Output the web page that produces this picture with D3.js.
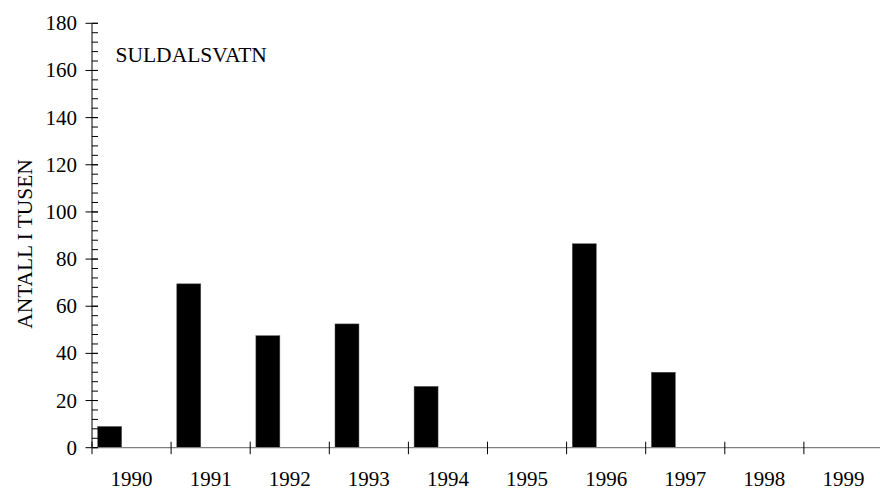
<!DOCTYPE html>
<html>
<head>
<meta charset="utf-8">
<script src="https://cdnjs.cloudflare.com/ajax/libs/d3/7.8.5/d3.min.js"></script>
<style>
    body { margin: 0; background: #fff; }
    #chart text { font-family: "Liberation Serif", "DejaVu Serif", serif !important; }
</style>
</head>
<body>
<svg id="chart" width="880" height="489"></svg>
<script>
    // data
    var years = ["1990", "1991", "1992", "1993", "1994", "1995", "1996", "1997", "1998", "1999"];
    var antall = [9, 69.5, 47.5, 52.5, 26, 0, 86.5, 32, 0, 0];
    var yTicks = [0, 20, 40, 60, 80, 100, 120, 140, 160, 180];

    var svg = d3.select("#chart");
    var x0 = 92, yBase = 447.7, yTop = 23.3;
    var x1 = x0 + 79.1 * years.length;

    var x = d3.scaleBand().domain(years).range([x0, x1]).padding(0);
    var y = d3.scaleLinear().domain([0, 180]).range([yBase, yTop]);
    var bw = x.bandwidth();

    svg.append("text")
        .attr("x", 115.5)
        .attr("y", 61.5)
        .attr("font-size", 21.5)
        .text("SULDALSVATN");

    svg.append("text")
        .attr("transform", "translate(31.5,244) rotate(-90)")
        .attr("text-anchor", "middle")
        .attr("font-size", 21.4)
        .text("ANTALL I TUSEN");

    // bars sit in the left part of each year band
    svg.selectAll(".bar")
        .data(years)
        .enter().append("rect")
        .attr("class", "bar")
        .attr("x", function(d) { return x(d) + bw * 0.072; })
        .attr("width", bw * 0.303)
        .attr("y", function(d, i) { return y(antall[i]); })
        .attr("height", function(d, i) { return yBase - y(antall[i]); })
        .attr("fill", "#000")
        .attr("stroke", "#555")
        .attr("stroke-width", 0.5);

    // x axis
    svg.append("line")
        .attr("x1", x0).attr("x2", x1)
        .attr("y1", yBase).attr("y2", yBase)
        .attr("stroke", "#808080").attr("stroke-width", 1.2);
    svg.selectAll(".xt")
        .data(d3.range(years.length + 1))
        .enter().append("line")
        .attr("x1", function(i) { return x0 + i * bw; })
        .attr("x2", function(i) { return x0 + i * bw; })
        .attr("y1", yBase - 6).attr("y2", yBase + 6.5)
        .attr("stroke", "#000").attr("stroke-width", 1);
    svg.selectAll(".xl")
        .data(years)
        .enter().append("text")
        .attr("x", function(d) { return x(d) + bw / 2; })
        .attr("y", 485.5)
        .attr("text-anchor", "middle")
        .attr("font-size", 21)
        .text(function(d) { return d; });

    // y axis: minor ticks every 4, major every 20
    svg.append("line")
        .attr("x1", x0).attr("x2", x0)
        .attr("y1", yBase).attr("y2", yTop)
        .attr("stroke", "#000").attr("stroke-width", 1);
    svg.selectAll(".ymin")
        .data(d3.range(0, 181, 4))
        .enter().append("line")
        .attr("x1", x0).attr("x2", x0 + 6)
        .attr("y1", function(d) { return y(d); })
        .attr("y2", function(d) { return y(d); })
        .attr("stroke", "#000").attr("stroke-width", 1);
    svg.selectAll(".ymaj")
        .data(yTicks)
        .enter().append("line")
        .attr("x1", x0 - 6.5).attr("x2", x0 + 6)
        .attr("y1", function(d) { return y(d); })
        .attr("y2", function(d) { return y(d); })
        .attr("stroke", "#000").attr("stroke-width", 1);
    svg.selectAll(".yl")
        .data(yTicks)
        .enter().append("text")
        .attr("x", 77)
        .attr("y", function(d) { return y(d) + 7; })
        .attr("text-anchor", "end")
        .attr("font-size", 21)
        .text(function(d) { return d; });
</script>
</body>
</html>
